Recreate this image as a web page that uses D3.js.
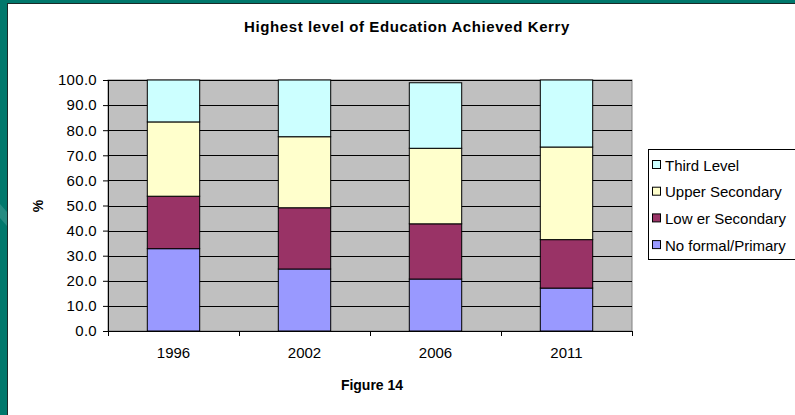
<!DOCTYPE html>
<html>
<head>
<meta charset="utf-8">
<script src="https://cdn.jsdelivr.net/npm/d3@7"></script>
<style>
  html, body { margin: 0; padding: 0; background: #fff; }
  svg { display: block; }
  text { font-family: "Liberation Sans", Arial, sans-serif; fill: #000; }
</style>
</head>
<body>
<svg id="chart" width="795" height="415"></svg>
<script>
const categories = ["1996", "2002", "2006", "2011"];
const seriesNames = ["No formal/Primary", "Low er Secondary", "Upper Secondary", "Third Level"];
const noFormalPrimary = [32.8, 24.7, 20.7, 17.1];
const lowerSecondary = [20.9, 24.4, 22.0, 19.3];
const upperSecondary = [29.6, 28.3, 30.1, 36.9];
const thirdLevel = [16.7, 22.6, 26.1, 26.7];
const yTicks = [0, 10, 20, 30, 40, 50, 60, 70, 80, 90, 100];
const colors = ["#9999FF", "#993366", "#FFFFCC", "#CCFFFF"];
const titleText = "Highest level of Education Achieved Kerry";
const xTitleText = "Figure 14";
const yTitleText = "%";

const svg = d3.select("#chart");

// background frame
svg.append("rect").attr("x", 0).attr("y", 0).attr("width", 795).attr("height", 415).attr("fill", "#00786C");
svg.append("polygon").attr("points", "0,204 7,212 7,226 0,218").attr("fill", "#2f9188").attr("opacity", 0.8);
svg.append("rect").attr("x", 7).attr("y", 3).attr("width", 790).attr("height", 415).attr("fill", "#1a2a28");
svg.append("rect").attr("x", 8).attr("y", 4).attr("width", 790).attr("height", 415).attr("fill", "#ffffff");

const margin = { left: 108, top: 80, right: 632, bottom: 331 };

const table = categories.map((c, i) => ({
  cat: c,
  "No formal/Primary": noFormalPrimary[i],
  "Low er Secondary": lowerSecondary[i],
  "Upper Secondary": upperSecondary[i],
  "Third Level": thirdLevel[i]
}));
const stacked = d3.stack().keys(seriesNames)(table);

const x = d3.scaleBand().domain(categories).range([margin.left, margin.right]).paddingInner(0).paddingOuter(0);
const y = d3.scaleLinear().domain([0, 100]).range([margin.bottom, margin.top]);
const color = d3.scaleOrdinal().domain(seriesNames).range(colors);

// plot area
svg.append("rect")
  .attr("x", margin.left).attr("y", margin.top)
  .attr("width", margin.right - margin.left).attr("height", margin.bottom - margin.top)
  .attr("fill", "#C0C0C0").attr("stroke", "#808080").attr("stroke-width", 1);

// gridlines
svg.append("g").selectAll("line").data(yTicks.filter(t => t > 0)).join("line")
  .attr("x1", margin.left).attr("x2", margin.right)
  .attr("y1", d => Math.round(y(d)) + 0.5).attr("y2", d => Math.round(y(d)) + 0.5)
  .attr("stroke", "#000").attr("stroke-width", 1);

// bars
const barW = x.bandwidth() * 0.4;
svg.append("g").selectAll("g").data(stacked).join("g")
  .attr("fill", d => color(d.key))
  .selectAll("rect").data(d => d).join("rect")
  .attr("x", d => x(d.data.cat) + (x.bandwidth() - barW) / 2)
  .attr("width", barW)
  .attr("y", d => y(d[1]))
  .attr("height", d => y(d[0]) - y(d[1]))
  .attr("stroke", "#000").attr("stroke-width", 1);

// y axis
const yAxis = d3.axisLeft(y).tickValues(yTicks).tickFormat(d3.format(".1f")).tickSize(5).tickPadding(6);
const gy = svg.append("g").attr("transform", `translate(${margin.left},0)`).call(yAxis);
gy.select(".domain").attr("stroke", "#000");
gy.selectAll(".tick line").attr("stroke", "#000");
gy.selectAll("text").attr("font-size", "15px").attr("letter-spacing", "0.3px")
  .attr("font-family", "Liberation Sans, Arial, sans-serif").attr("fill", "#000");

// x axis
const gx = svg.append("g").attr("transform", `translate(0,${margin.bottom})`);
gx.append("line").attr("x1", margin.left).attr("x2", margin.right).attr("y1", 0.5).attr("y2", 0.5).attr("stroke", "#000");
const xb = [...categories.map(c => x(c)), margin.right];
gx.selectAll(".xt").data(xb).join("line").attr("class", "xt")
  .attr("x1", d => Math.round(d) + 0.5).attr("x2", d => Math.round(d) + 0.5)
  .attr("y1", 0).attr("y2", 5).attr("stroke", "#000");
gx.selectAll(".xl").data(categories).join("text").attr("class", "xl")
  .attr("x", d => x(d) + x.bandwidth() / 2).attr("y", 27)
  .attr("text-anchor", "middle").attr("font-size", "15px").text(d => d);

// titles
svg.append("text").attr("x", 407).attr("y", 32).attr("text-anchor", "middle")
  .attr("font-weight", "bold").attr("font-size", "15px").attr("letter-spacing", "0.6px").text(titleText);
svg.append("text").attr("x", 372).attr("y", 390).attr("text-anchor", "middle")
  .attr("font-weight", "bold").attr("font-size", "14px").text(xTitleText);
svg.append("text").attr("transform", "translate(43,206) rotate(-90)").attr("text-anchor", "middle")
  .attr("font-weight", "bold").attr("font-size", "14px").text(yTitleText);

// legend
const lg = svg.append("g");
lg.append("rect").attr("x", 648.5).attr("y", 149.5).attr("width", 200).attr("height", 110)
  .attr("fill", "#fff").attr("stroke", "#000").attr("stroke-width", 1);
const legendOrder = seriesNames.slice().reverse();
const li = lg.selectAll("g.li").data(legendOrder).join("g").attr("class", "li")
  .attr("transform", (d, i) => `translate(652,${165 + i * 26.7})`);
li.append("rect").attr("x", 0.5).attr("y", -4.5).attr("width", 8).attr("height", 8)
  .attr("fill", d => color(d)).attr("stroke", "#000");
li.append("text").attr("x", 13).attr("y", 5.5).attr("font-size", "15px").text(d => d);
</script>
</body>
</html>
